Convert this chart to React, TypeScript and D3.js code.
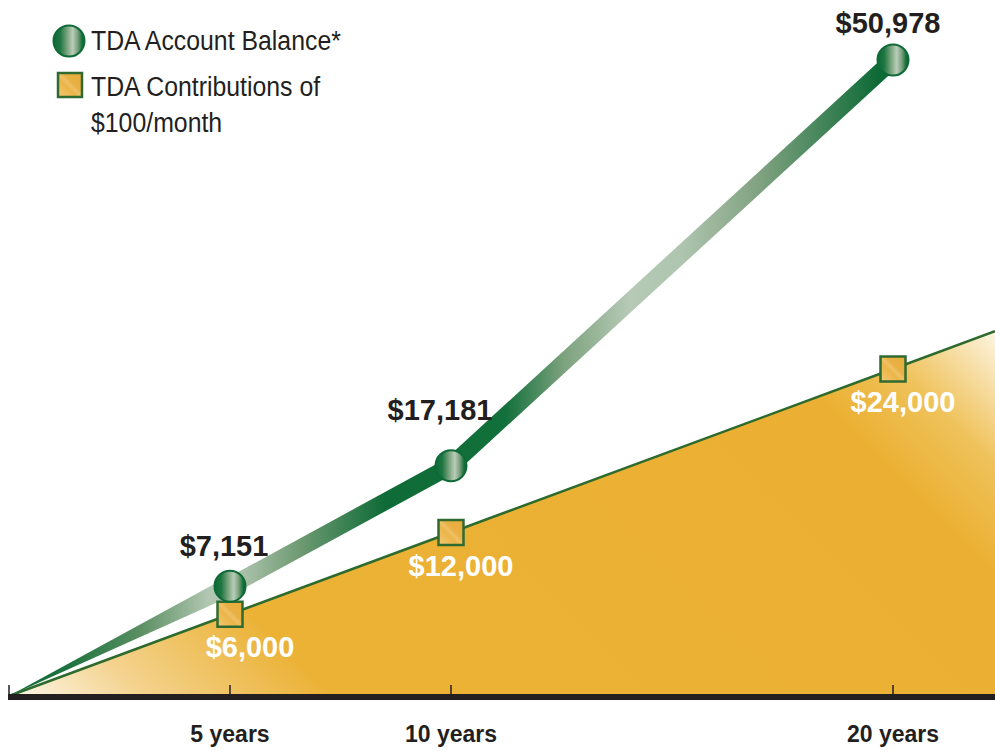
import React from "react";
import * as d3 from "d3";

// ---- data ----
const years = [0, 5, 10, 20];
const balance = [0, 7151, 17181, 50978];
const contributions = [0, 6000, 12000, 24000];
const monthlyContribution = 100;
const tickYears = [0, 5, 10, 20];
const tickLabels = ["", "5 years", "10 years", "20 years"];
const legendLabels = ["TDA Account Balance*", "TDA Contributions of", "$100/month"];

// ---- layout (not data) ----
const W = 995;
const H = 751;
const balanceLabelDx = [0, -6, -11, -5];
const balanceLabelDy = [0, -30, -46, -27];
const contribLabelDx = [0, 20, 10, 10];
const contribLabelDy = 43;

const FONT = "'Liberation Sans', Arial, Helvetica, sans-serif";
const DARK = "#231f20";
const GREEN = "#0e6a36";

export default function App() {
  const x = d3.scaleLinear().domain([0, 20]).range([9, 893]);
  const yC = d3.scaleLinear().domain([0, 24000]).range([696, 369]);
  const yB = d3.scaleLinear().domain([0, 50978]).range([672, 60]);
  const fmt = d3.format("$,");

  // contributions area extended to right edge
  const endYears = x.invert(W);
  const contribPts: [number, number][] = years.map((yr, i) => [yr, contributions[i]]);
  contribPts.push([endYears, endYears * 12 * monthlyContribution]);
  const area = d3
    .area<[number, number]>()
    .x((d) => x(d[0]))
    .y0(yC(0))
    .y1((d) => yC(d[1]));
  const topLine = d3
    .line<[number, number]>()
    .x((d) => x(d[0]))
    .y((d) => yC(d[1]));

  // balance points (start at shared origin)
  const bPts: [number, number][] = years.map((yr, i) =>
    i === 0 ? [x(0), yC(0)] : [x(yr), yB(balance[i])]
  );
  const p0 = bPts[0];
  const p1 = bPts[1];
  const dxs = p1[0] - p0[0];
  const dys = p1[1] - p0[1];
  const len = Math.hypot(dxs, dys);
  const nx = -dys / len;
  const ny = dxs / len;
  const hw = 9.5;
  const wedge = `M${p0[0]},${p0[1]}L${p1[0] + nx * hw},${p1[1] + ny * hw}L${p1[0] - nx * hw},${p1[1] - ny * hw}Z`;
  const restLine = d3.line()(bPts.slice(1)) as string;

  const gx = (px: number) => (px - 9) / (W - 9);
  const lineStops: [number, string][] = [
    [9, "#0e6a36"],
    [70, "#1f7340"],
    [140, "#5a8f62"],
    [210, "#b3c8b3"],
    [245, "#a8c0a8"],
    [300, "#6e9a72"],
    [385, "#0f6b37"],
    [505, "#12703a"],
    [565, "#7ea37f"],
    [630, "#b6cab6"],
    [680, "#afc5af"],
    [760, "#80a281"],
    [880, "#0c6a35"],
  ];

  // area gradient runs at 45deg from origin toward the top-right corner
  const ox = x(0);
  const oy = yC(0);
  const cornerY = yC(endYears * 12 * monthlyContribution);
  const proj = ((W - ox) + (oy - cornerY)) / 2;

  return (
    <svg width={W} height={H} style={{ display: "block", position: "absolute", left: 0, top: 0 }}>
      <defs>
        <linearGradient id="balGrad" gradientUnits="userSpaceOnUse" x1={9} y1={0} x2={W} y2={0}>
          {lineStops.map(([px, c], i) => (
            <stop key={i} offset={gx(px)} stopColor={c} />
          ))}
        </linearGradient>
        <linearGradient
          id="areaGrad"
          gradientUnits="userSpaceOnUse"
          x1={ox}
          y1={oy}
          x2={ox + proj}
          y2={oy - proj}
        >
          <stop offset={0} stopColor="#fdf7ea" />
          <stop offset={0.1} stopColor="#f4d38f" />
          <stop offset={0.24} stopColor="#ebb236" />
          <stop offset={0.82} stopColor="#ebb033" />
          <stop offset={0.9} stopColor="#efc25a" />
          <stop offset={1} stopColor="#fdf4e0" />
        </linearGradient>
        <linearGradient id="circGrad" x1={0} y1={0} x2={1} y2={0}>
          <stop offset={0} stopColor="#0b6a35" />
          <stop offset={0.22} stopColor="#1f7642" />
          <stop offset={0.45} stopColor="#7ea681" />
          <stop offset={0.62} stopColor="#b9cdb9" />
          <stop offset={0.78} stopColor="#7ba07d" />
          <stop offset={0.92} stopColor="#14703b" />
          <stop offset={1} stopColor="#0b6a35" />
        </linearGradient>
        <linearGradient id="sqGrad" x1={0} y1={1} x2={1} y2={0}>
          <stop offset={0} stopColor="#f3c874" />
          <stop offset={0.4} stopColor="#ebb548" />
          <stop offset={0.5} stopColor="#efc067" />
          <stop offset={0.6} stopColor="#e9b043" />
          <stop offset={1} stopColor="#e8ac3c" />
        </linearGradient>
      </defs>

      {/* contributions area */}
      <path d={area(contribPts) as string} fill="url(#areaGrad)" />
      <path d={topLine(contribPts) as string} fill="none" stroke="#2d6a2e" strokeWidth={2.5} />

      {/* balance line */}
      <path d={wedge} fill="url(#balGrad)" />
      <path
        d={restLine}
        fill="none"
        stroke="url(#balGrad)"
        strokeWidth={17}
        strokeLinejoin="round"
        strokeLinecap="butt"
      />

      {/* axis */}
      <rect x={8} y={694} width={W - 8} height={6} fill={DARK} />
      {tickYears.map((t, i) => (
        <line key={i} x1={x(t)} x2={x(t)} y1={685} y2={694} stroke={DARK} strokeWidth={1.5} />
      ))}
      {tickYears.map((t, i) => (
        <text
          key={i}
          x={x(t)}
          y={742}
          textAnchor="middle"
          fontFamily={FONT}
          fontWeight="bold"
          fontSize={23}
          fill={DARK}
        >
          {tickLabels[i]}
        </text>
      ))}

      {/* contribution markers */}
      {years.map((yr, i) =>
        i === 0 ? null : (
          <rect
            key={i}
            x={x(yr) - 12.5}
            y={yC(contributions[i]) - 12.5}
            width={25}
            height={25}
            fill="url(#sqGrad)"
            stroke="#2f6b31"
            strokeWidth={2.5}
          />
        )
      )}
      {/* balance markers */}
      {years.map((yr, i) =>
        i === 0 ? null : (
          <circle
            key={i}
            cx={x(yr)}
            cy={yB(balance[i])}
            r={15.5}
            fill="url(#circGrad)"
            stroke={GREEN}
            strokeWidth={2}
          />
        )
      )}

      {/* value labels */}
      {years.map((yr, i) =>
        i === 0 ? null : (
          <text
            key={"b" + i}
            x={x(yr) + balanceLabelDx[i]}
            y={yB(balance[i]) + balanceLabelDy[i]}
            textAnchor="middle"
            fontFamily={FONT}
            fontWeight="bold"
            fontSize={29}
            fill={DARK}
          >
            {fmt(balance[i])}
          </text>
        )
      )}
      {years.map((yr, i) =>
        i === 0 ? null : (
          <text
            key={"c" + i}
            x={x(yr) + contribLabelDx[i]}
            y={yC(contributions[i]) + contribLabelDy}
            textAnchor="middle"
            fontFamily={FONT}
            fontWeight="bold"
            fontSize={29}
            fill="#ffffff"
          >
            {fmt(contributions[i])}
          </text>
        )
      )}

      {/* legend */}
      <circle cx={69} cy={41} r={15.5} fill="url(#circGrad)" stroke={GREEN} strokeWidth={2} />
      <rect x={58} y={73} width={24} height={24} fill="url(#sqGrad)" stroke="#2f6b31" strokeWidth={2.5} />
      {legendLabels.map((t, i) => (
        <g key={i} transform={`translate(91, ${[50, 96, 132][i]}) scale(0.92, 1)`}>
          <text x={0} y={0} fontFamily={FONT} fontSize={27} fill={DARK}>
            {t}
          </text>
        </g>
      ))}
    </svg>
  );
}
